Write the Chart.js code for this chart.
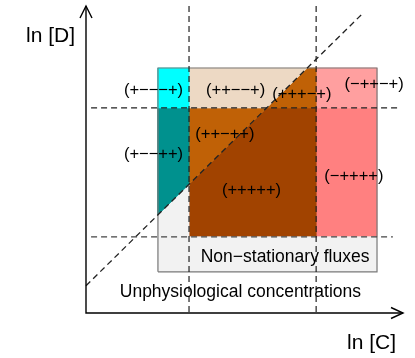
<!DOCTYPE html>
<html>
<head>
<meta charset="utf-8">
<script src="https://cdn.jsdelivr.net/npm/chart.js@4/dist/chart.umd.min.js"></script>
<style>
  html, body { margin: 0; padding: 0; background: #fff; }
  #phase { display: block; }
</style>
</head>
<body>
<canvas id="phase" width="415" height="358"></canvas>
<script>
// Axis ranges: ln [C] horizontally, ln [D] vertically
const cRange = [0, 10];
const dRange = [0, 10];

// Outer edges of the physiological box
const cBox = [2.27, 9.18];
const dBox = [1.34, 7.98];

// Critical levels (dashed lines)
const cThresholds = [3.25, 7.26];
const dThresholds = [2.48, 6.68];

// Extent of the two horizontal dashed lines along ln [C]
const dLineSpanLow = [0.16, 9.68];
const dLineSpanHigh = [0.16, 9.87];

// Diagonal dashed boundary, given by its two end points (ln [C], ln [D])
const diagStart = [0.0, 0.89];
const diagEnd = [8.74, 9.77];

// Sign patterns of the regions
const regionLabels = ['(+−−−+)', '(+−−++)', '(++−−+)', '(+++−+)', '(++−++)', '(+++++)', '(−++−+)', '(−++++)'];
const regionLabelC = [2.13, 2.13, 4.72, 6.81, 4.38, 5.22, 9.09, 8.45];
const regionLabelD = [7.26, 5.15, 7.26, 7.13, 5.80, 3.98, 7.43, 4.44];

// Notes on the lower strips
const noteLabels = ['Non−stationary fluxes', 'Unphysiological concentrations'];
const noteLabelC = [6.28, 4.87];
const noteLabelD = [1.81, 0.69];

// Axis titles
const axisTitles = ['ln [D]', 'ln [C]'];
const axisTitleC = [-1.12, 9.01];
const axisTitleD = [9.01, -0.98];

// Region colours
const colors = {
  cyan: '#00FFFF',
  teal: '#00918E',
  beige: '#EDD9C4',
  orange: '#C06106',
  brown: '#A14300',
  pinkLight: '#FF9F9F',
  pink: '#FF8080',
  grey: '#F2F2F2'
};

// ---- geometry derived from the values above ----
const [C0, C3] = cBox;
const [C1, C2] = cThresholds;
const [D0, D3] = dBox;
const [D1, D2] = dThresholds;
const slope = (diagEnd[1] - diagStart[1]) / (diagEnd[0] - diagStart[0]);
const diagD = c => diagStart[1] + slope * (c - diagStart[0]);
const diagC = d => diagStart[0] + (d - diagStart[1]) / slope;

const regions = [
  { color: colors.cyan,      pts: [[C0, D2], [C1, D2], [C1, D3], [C0, D3]] },
  { color: colors.teal,      pts: [[C0, diagD(C0)], [C1, diagD(C1)], [C1, D2], [C0, D2]] },
  { color: colors.grey,      pts: [[C0, D0], [C3, D0], [C3, D1], [C1, D1], [C1, diagD(C1)], [C0, diagD(C0)]] },
  { color: colors.beige,     pts: [[C1, D2], [diagC(D2), D2], [diagC(D3), D3], [C1, D3]] },
  { color: colors.orange,    pts: [[diagC(D2), D2], [C2, D2], [C2, D3], [diagC(D3), D3]] },
  { color: colors.orange,    pts: [[C1, diagD(C1)], [diagC(D2), D2], [C1, D2]] },
  { color: colors.brown,     pts: [[C1, D1], [C2, D1], [C2, D2], [diagC(D2), D2], [C1, diagD(C1)]] },
  { color: colors.pinkLight, pts: [[C2, D2], [C3, D2], [C3, D3], [C2, D3]] },
  { color: colors.pink,      pts: [[C2, D1], [C3, D1], [C3, D2], [C2, D2]] }
];

const toXY = pts => pts.map(([x, y]) => ({ x, y }));
const base = { type: 'line', pointRadius: 0, tension: 0, clip: false, fill: false };

const datasets = [];

// Axes
datasets.push({ ...base, order: 0, data: toXY([[cRange[0], dRange[1]], [cRange[0], dRange[0]], [cRange[1], dRange[0]]]),
  borderColor: '#000', borderWidth: 1.4 });

// Dashed boundaries
const dash = { ...base, order: 1, borderColor: '#222', borderWidth: 1.2, borderDash: [6, 4] };
cThresholds.forEach(c => datasets.push({ ...dash, data: toXY([[c, dRange[1]], [c, dRange[0]]]) }));
datasets.push({ ...dash, borderColor: '#444', data: toXY([[dLineSpanLow[0], D1], [dLineSpanLow[1], D1]]) });
datasets.push({ ...dash, data: toXY([[dLineSpanHigh[0], D2], [dLineSpanHigh[1], D2]]) });
datasets.push({ ...dash, borderWidth: 1.3, data: toXY([diagStart, diagEnd]) });

// Box outline
datasets.push({ ...base, order: 2, data: toXY([[C0, D0], [C3, D0], [C3, D3], [C0, D3], [C0, D0]]),
  borderColor: '#7a7a7a', borderWidth: 1.2 });

// Filled regions
regions.forEach(r => datasets.push({ ...base, order: 3, fill: 'shape',
  data: toXY(r.pts.concat([r.pts[0]])), backgroundColor: r.color, borderColor: r.color, borderWidth: 0.8 }));

const FONT = '"Liberation Sans", Arial, Helvetica, sans-serif';

const annotations = {
  id: 'annotations',
  afterDatasetsDraw(chart) {
    const { ctx, scales: { x, y } } = chart;
    ctx.save();
    // arrow heads on the axes
    ctx.strokeStyle = '#000';
    ctx.lineWidth = 1.4;
    const tx = x.getPixelForValue(cRange[0]), ty = y.getPixelForValue(dRange[1]);
    ctx.beginPath();
    ctx.moveTo(tx - 6, ty + 12); ctx.lineTo(tx, ty); ctx.lineTo(tx + 6, ty + 12);
    ctx.stroke();
    const rx = x.getPixelForValue(cRange[1]), ry = y.getPixelForValue(dRange[0]);
    ctx.beginPath();
    ctx.moveTo(rx - 12, ry - 5.5); ctx.lineTo(rx, ry); ctx.lineTo(rx - 12, ry + 5.5);
    ctx.stroke();

    ctx.fillStyle = '#000';
    ctx.textAlign = 'center';
    ctx.textBaseline = 'middle';
    ctx.font = '16.5px ' + FONT;
    regionLabels.forEach((t, i) => ctx.fillText(t, x.getPixelForValue(regionLabelC[i]), y.getPixelForValue(regionLabelD[i])));
    ctx.font = '17.5px ' + FONT;
    noteLabels.forEach((t, i) => ctx.fillText(t, x.getPixelForValue(noteLabelC[i]), y.getPixelForValue(noteLabelD[i])));
    ctx.font = '21px ' + FONT;
    axisTitles.forEach((t, i) => ctx.fillText(t, x.getPixelForValue(axisTitleC[i]), y.getPixelForValue(axisTitleD[i])));
    ctx.restore();
  }
};

new Chart(document.getElementById('phase'), {
  type: 'line',
  data: { datasets },
  options: {
    responsive: false,
    animation: false,
    devicePixelRatio: 1,
    layout: { padding: { left: 86, right: 12, top: 6, bottom: 45 } },
    scales: {
      x: { type: 'linear', min: cRange[0], max: cRange[1], display: false },
      y: { type: 'linear', min: dRange[0], max: dRange[1], display: false }
    },
    plugins: { legend: { display: false }, tooltip: { enabled: false } }
  },
  plugins: [annotations]
});
</script>
</body>
</html>
